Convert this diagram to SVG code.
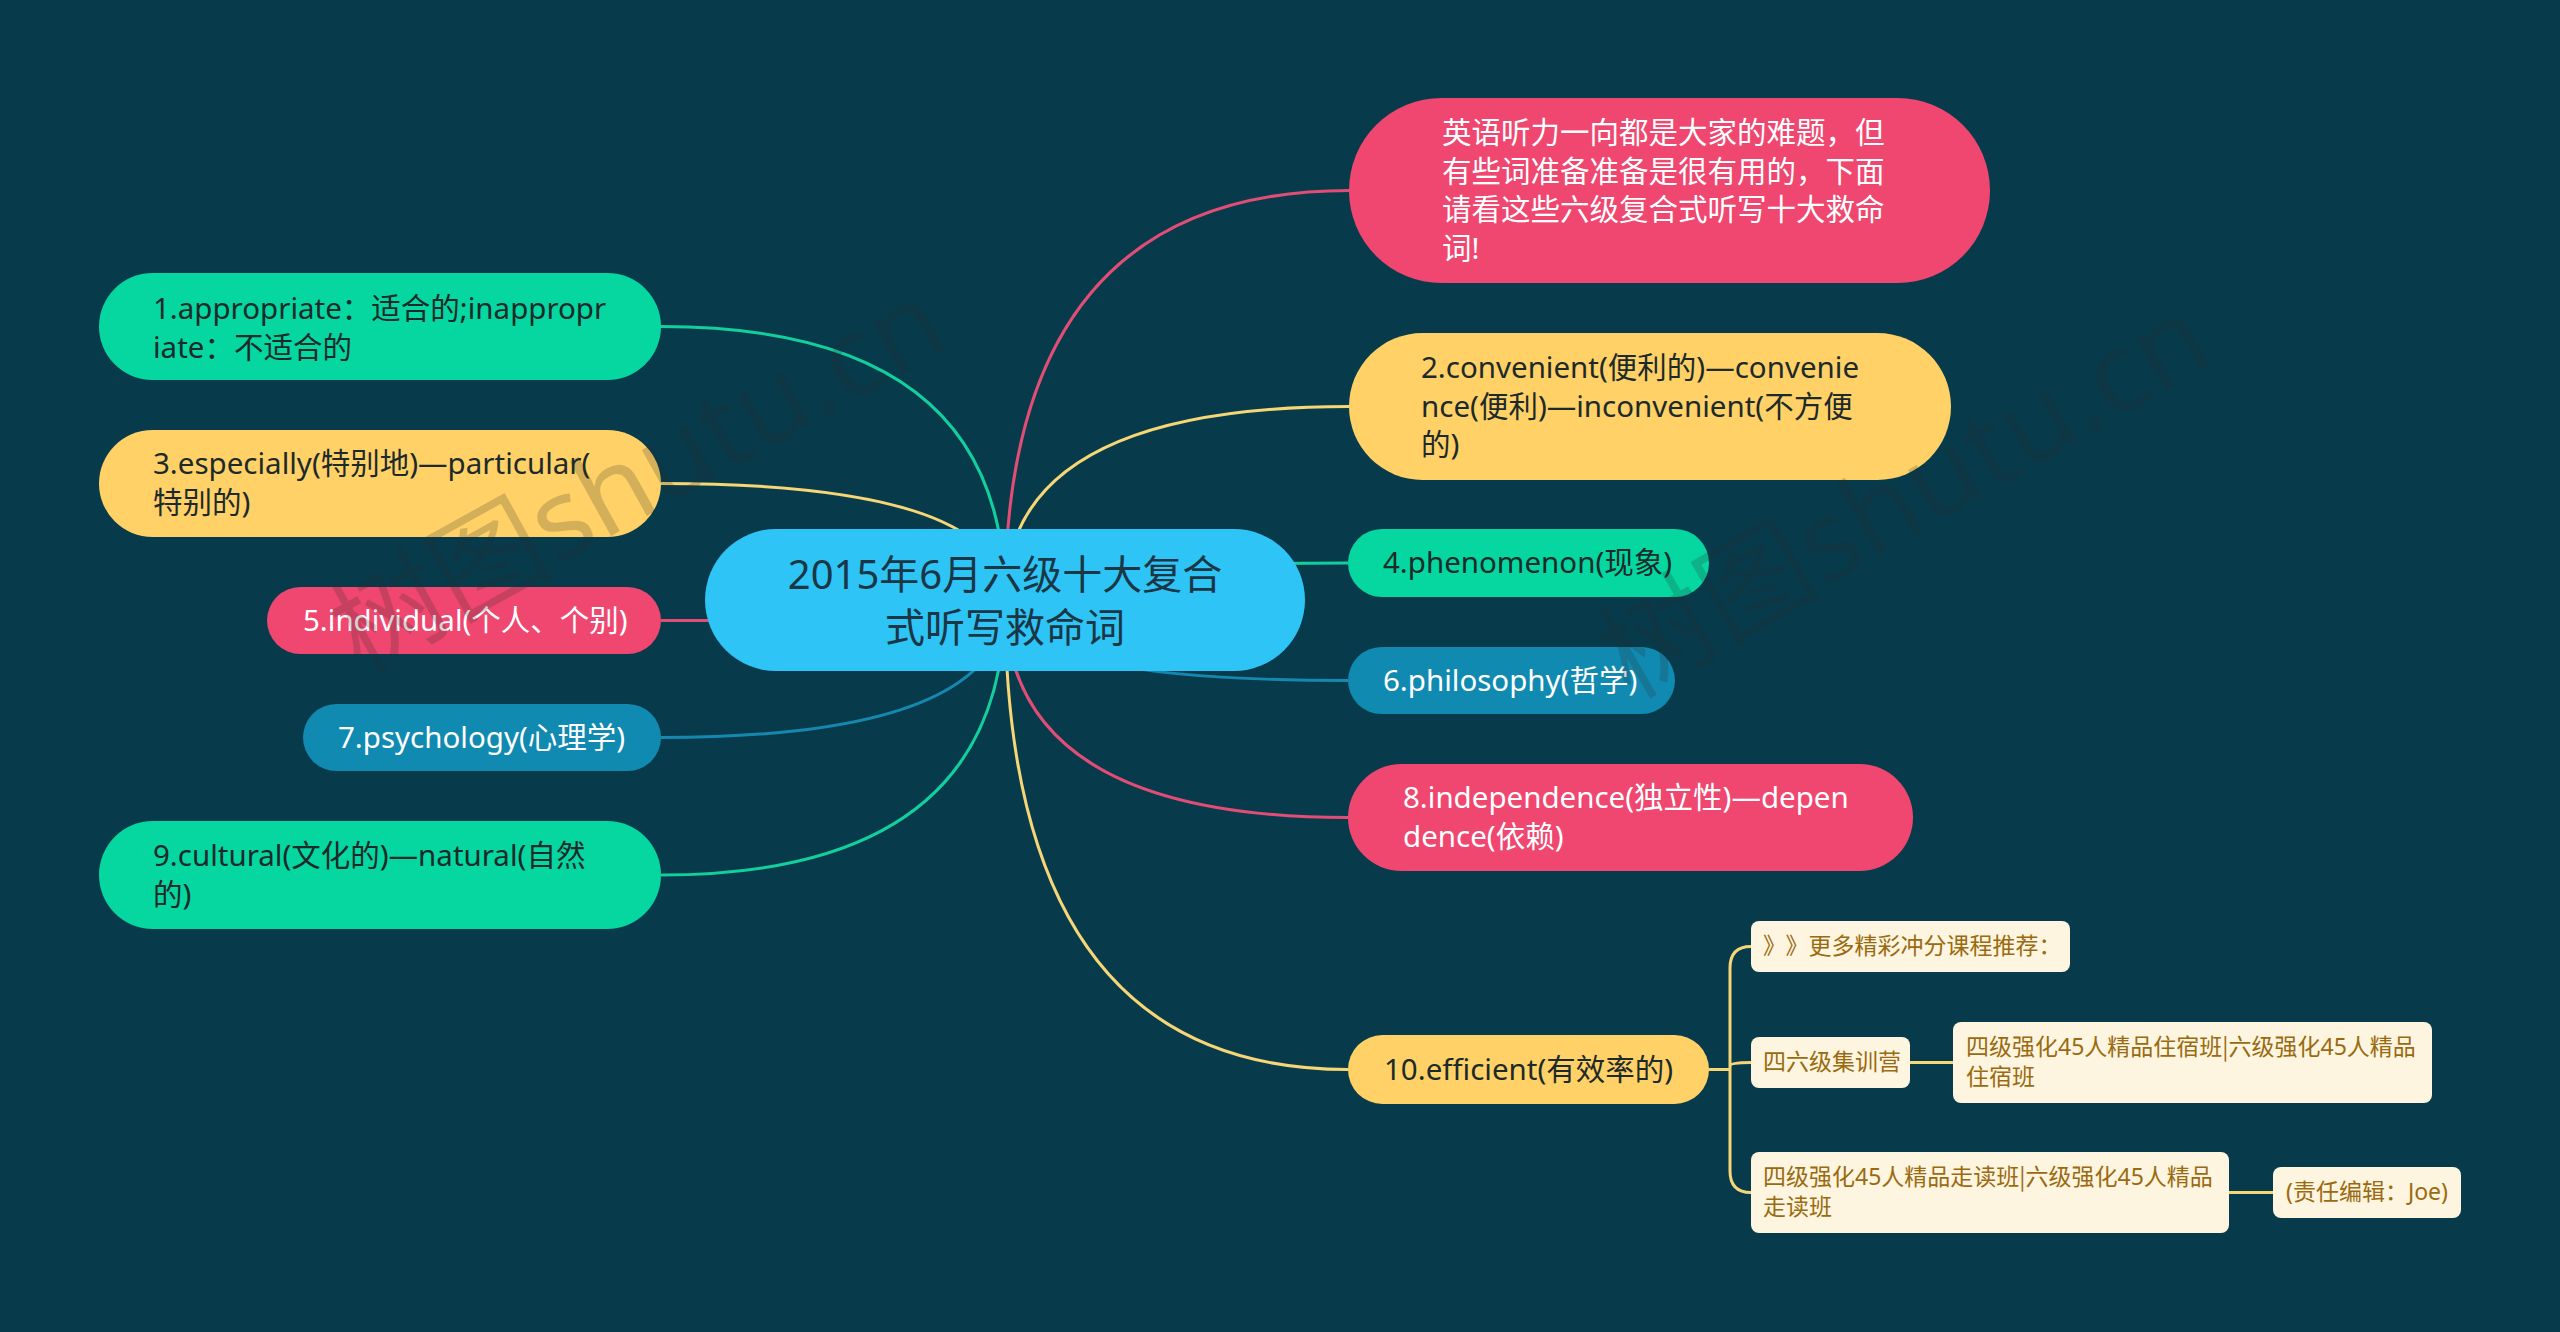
<svg xmlns="http://www.w3.org/2000/svg" width="2560" height="1332" viewBox="0 0 2560 1332">
<style>
.bg{fill:#073B4C}
.t{font-family:"Noto Sans","Noto Sans CJK SC",sans-serif;font-size:29.5px}
.dark{fill:#1c2a2a}
.light{fill:#ffffff}
.ct{font-family:"Noto Sans","Noto Sans CJK SC",sans-serif;font-size:40px;fill:#1b3645;text-anchor:middle}
.st{font-family:"Noto Sans","Noto Sans CJK SC",sans-serif;font-size:23px;fill:#9a6a10}
.cjk{font-family:"Noto Sans CJK SC",sans-serif}
.sub{fill:#fdf5df}
.c{fill:none;stroke-width:3}
.g{stroke:#13cf9d}.y{stroke:#f7d676}.p{stroke:#e24d76}.b{stroke:#1688b0}
.wm{font-family:"Noto Sans","Noto Sans CJK SC",sans-serif;font-size:112px;fill:#2a2a2a;opacity:0.2}
</style>
<rect class="bg" x="0" y="0" width="2560" height="1332"/>
<g id="connectors">
<path class="c p" d="M1005 600 Q1005 190.5 1349 190.5"/>
<path class="c y" d="M1005 600 Q1005 406.5 1349 406.5"/>
<path class="c g" d="M1005 600 Q1005 563 1348 563"/>
<path class="c b" d="M1005 600 Q1005 680.5 1348 680.5"/>
<path class="c p" d="M1005 600 Q1005 817.5 1348 817.5"/>
<path class="c y" d="M1005 600 Q1005 1069.5 1348 1069.5"/>
<path class="c g" d="M1005 600 Q1005 326.5 661 326.5"/>
<path class="c y" d="M1005 600 Q1005 483.5 661 483.5"/>
<path class="c p" d="M1005 600 Q1005 620.5 661 620.5"/>
<path class="c b" d="M1005 600 Q1005 737.5 661 737.5"/>
<path class="c g" d="M1005 600 Q1005 875 661 875"/>
<path class="c y" d="M1709 1069.5 L1730 1069.5 M1751 946.5 Q1730 946.5 1730 968 L1730 1171 Q1730 1192.5 1751 1192.5 M1730 1066 Q1730 1062.5 1751 1062.5"/>
<path class="c y" d="M1910 1062.5 L1953 1062.5 M2229 1192.5 L2273 1192.5"/>
</g>
<g id="center">
<rect x="705" y="529" width="600" height="142" rx="71" fill="#2ec4f6"/>
<text class="ct" x="1005" y="589">2015年6月六级十大复合</text>
<text class="ct" x="1005" y="642">式听写救命词</text>
</g>
<g id="n-intro">
<rect x="1349" y="98" width="641" height="185" rx="92.5" fill="#EF476F"/>
<text class="t light" x="1442" y="143">英语听力一向都是大家的难题，但</text>
<text class="t light" x="1442" y="181.5">有些词准备准备是很有用的，下面</text>
<text class="t light" x="1442" y="220">请看这些六级复合式听写十大救命</text>
<text class="t light" x="1442" y="258.5">词!</text>
</g>
<g id="n1">
<rect x="99" y="273" width="562" height="107" rx="53.5" fill="#06D6A0"/>
<text class="t dark" x="153" y="319">1.appropriate：适合的;inappropr</text>
<text class="t dark" x="153" y="357.5">iate：不适合的</text>
</g>
<g id="n2">
<rect x="1349" y="333" width="602" height="147" rx="73.5" fill="#FFD166"/>
<text class="t dark" x="1421" y="378">2.convenient(便利的)—convenie</text>
<text class="t dark" x="1421" y="416.5">nce(便利)—inconvenient(不方便</text>
<text class="t dark" x="1421" y="455">的)</text>
</g>
<g id="n3">
<rect x="99" y="430" width="562" height="107" rx="53.5" fill="#FFD166"/>
<text class="t dark" x="153" y="474">3.especially(特别地)—particular(</text>
<text class="t dark" x="153" y="512.5">特别的)</text>
</g>
<g id="n4">
<rect x="1348" y="529" width="361" height="68" rx="34" fill="#06D6A0"/>
<text class="t dark" x="1383" y="573">4.phenomenon(现象)</text>
</g>
<g id="n5">
<rect x="267" y="587" width="394" height="67" rx="33.5" fill="#EF476F"/>
<text class="t light" x="303" y="630.5">5.individual(个人、个别)</text>
</g>
<g id="n6">
<rect x="1348" y="647" width="327" height="67" rx="33.5" fill="#118AB2"/>
<text class="t light" x="1383" y="690.5">6.philosophy(哲学)</text>
</g>
<g id="n7">
<rect x="303" y="704" width="358" height="67" rx="33.5" fill="#118AB2"/>
<text class="t light" x="338" y="747.5">7.psychology(心理学)</text>
</g>
<g id="n8">
<rect x="1348" y="764" width="565" height="107" rx="53.5" fill="#EF476F"/>
<text class="t light" x="1403" y="808">8.independence(独立性)—depen</text>
<text class="t light" x="1403" y="846.5">dence(依赖)</text>
</g>
<g id="n9">
<rect x="99" y="821" width="562" height="108" rx="54" fill="#06D6A0"/>
<text class="t dark" x="153" y="866">9.cultural(文化的)—natural(自然</text>
<text class="t dark" x="153" y="904.5">的)</text>
</g>
<g id="n10">
<rect x="1348" y="1035" width="361" height="69" rx="34.5" fill="#FFD166"/>
<text class="t dark" x="1384" y="1080">10.efficient(有效率的)</text>
</g>
<g id="s1">
<rect class="sub" x="1751" y="921" width="319" height="51" rx="8"/>
<text class="st cjk" x="1763" y="954"><tspan letter-spacing="11">》</tspan>》更多精彩冲分课程推荐：</text>
</g>
<g id="s2">
<rect class="sub" x="1751" y="1037" width="159" height="51" rx="8"/>
<text class="st" x="1763" y="1070">四六级集训营</text>
</g>
<g id="s2c">
<rect class="sub" x="1953" y="1022" width="479" height="81" rx="8"/>
<text class="st" x="1966" y="1055">四级强化45人精品住宿班<tspan class="cjk">|</tspan>六级强化45人精品</text>
<text class="st" x="1966" y="1085">住宿班</text>
</g>
<g id="s3">
<rect class="sub" x="1751" y="1152" width="478" height="81" rx="8"/>
<text class="st" x="1763" y="1185">四级强化45人精品走读班<tspan class="cjk">|</tspan>六级强化45人精品</text>
<text class="st" x="1763" y="1215">走读班</text>
</g>
<g id="s3c">
<rect class="sub" x="2273" y="1167" width="188" height="51" rx="8"/>
<text class="st" x="2286" y="1200">(责任编辑：Joe)</text>
</g>
<g id="watermark">
<text class="wm" transform="translate(360 675) rotate(-29)">树图shutu.cn</text>
<text class="wm" transform="translate(1630 700) rotate(-30)">树图shutu.cn</text>
</g>
</svg>
